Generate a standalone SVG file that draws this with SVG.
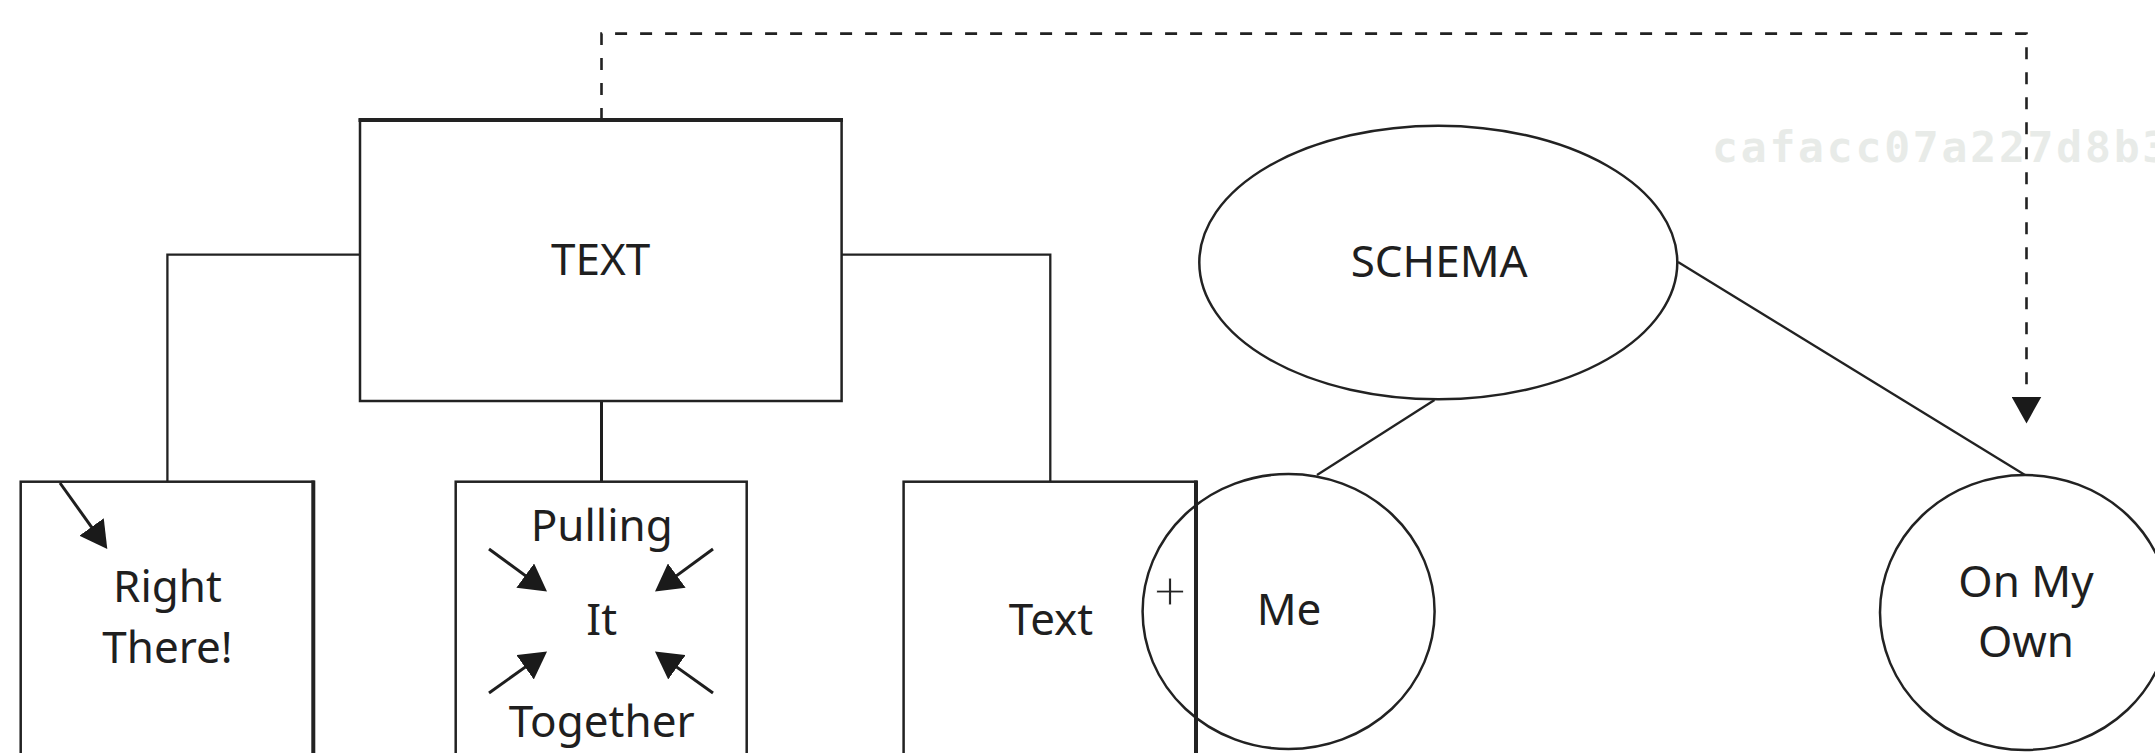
<svg xmlns="http://www.w3.org/2000/svg" width="2155" height="753" viewBox="0 0 2155 753">
<style>
.ln{fill:none;stroke:#222;stroke-width:2.3}
.thick{fill:none;stroke:#222;stroke-width:4}
.shape{fill:none;stroke:#222;stroke-width:2.5}
.arr{fill:none;stroke:#1e1e1e;stroke-width:3}
.dash{fill:none;stroke:#222;stroke-width:2.6;stroke-dasharray:12 13}
.lbl{font-family:"Noto Sans","Open Sans",sans-serif;font-size:44px;fill:#1f1f1f;text-anchor:middle}
.wm{font-family:"DejaVu Sans Mono","Liberation Mono",monospace;font-weight:bold;font-size:43px;letter-spacing:2.8px;fill:#e8ebe8}
.plus{font-family:"Liberation Serif",serif;font-size:58px;fill:#222;stroke:#fff;stroke-width:0.8px;text-anchor:middle}
</style>
<defs>
<marker id="ah" markerUnits="userSpaceOnUse" markerWidth="27" markerHeight="30" refX="20" refY="15" orient="auto" viewBox="0 0 27 30">
<path d="M0,0 L27,15 L0,30 z" fill="#1a1a1a"/>
</marker>
</defs>
<rect x="0" y="0" width="2155" height="753" fill="#ffffff"/>
<text class="wm" x="1712" y="161.7">cafacc07a227d8b3</text>

<g id="connectors">
<path class="ln" d="M360,254.6 H167.4 V481.7"/>
<path class="ln" d="M841.6,254.6 H1050.3 V481.7"/>
<path class="arr" d="M601.5,401 V481.7"/>
<path class="ln" d="M1434.5,400 L1317,475"/>
<path class="ln" d="M1678,262 L2025,475"/>
<path class="dash" d="M601.5,120 V33.6 H2026.5 V416.5" marker-end="url(#ah)"/>
</g>

<g id="node-text">
<rect class="shape" x="360" y="120" width="481.6" height="281"/>
<line class="thick" x1="358.5" y1="120" x2="843" y2="120"/>
<text class="lbl" x="600.6" y="275">TEXT</text>
</g>

<g id="node-right-there">
<rect class="shape" x="20.7" y="481.7" width="292.6" height="300"/>
<line class="thick" x1="313.3" y1="480.5" x2="313.3" y2="760"/>
<line class="arr" x1="60" y1="483" x2="103.2" y2="543.3" marker-end="url(#ah)"/>
<text class="lbl" x="167.5" y="601.7">Right</text>
<text class="lbl" x="167.5" y="663.3">There!</text>
</g>

<g id="node-pulling">
<rect class="shape" x="455.7" y="481.7" width="291" height="300"/>
<line class="arr" x1="489" y1="549" x2="541.35" y2="587.36" marker-end="url(#ah)"/>
<line class="arr" x1="713" y1="549" x2="660.65" y2="587.36" marker-end="url(#ah)"/>
<line class="arr" x1="489" y1="693" x2="541.35" y2="655.64" marker-end="url(#ah)"/>
<line class="arr" x1="713" y1="693" x2="660.65" y2="655.64" marker-end="url(#ah)"/>
<text class="lbl" x="601.7" y="540.7">Pulling</text>
<text class="lbl" x="601.7" y="635">It</text>
<text class="lbl" x="601.7" y="736.7">Together</text>
</g>

<g id="node-text2">
<rect class="shape" x="903.6" y="481.7" width="292.4" height="300"/>
<line class="thick" x1="1196" y1="480.5" x2="1196" y2="760"/>
<text class="lbl" x="1051" y="635">Text</text>
</g>

<g id="node-schema">
<ellipse class="shape" cx="1438.3" cy="262.5" rx="239" ry="136.8"/>
<text class="lbl" x="1439.2" y="276.7">SCHEMA</text>
</g>

<g id="node-me">
<ellipse class="shape" cx="1288.6" cy="611.5" rx="146" ry="137.5"/>
<text class="plus" x="1170" y="610.5">+</text>
<text class="lbl" x="1289" y="625">Me</text>
</g>

<g id="node-on-my-own">
<ellipse class="shape" cx="2025" cy="612.5" rx="145" ry="137.5"/>
<text class="lbl" x="2026" y="596.7">On My</text>
<text class="lbl" x="2026" y="656.7">Own</text>
</g>
</svg>
